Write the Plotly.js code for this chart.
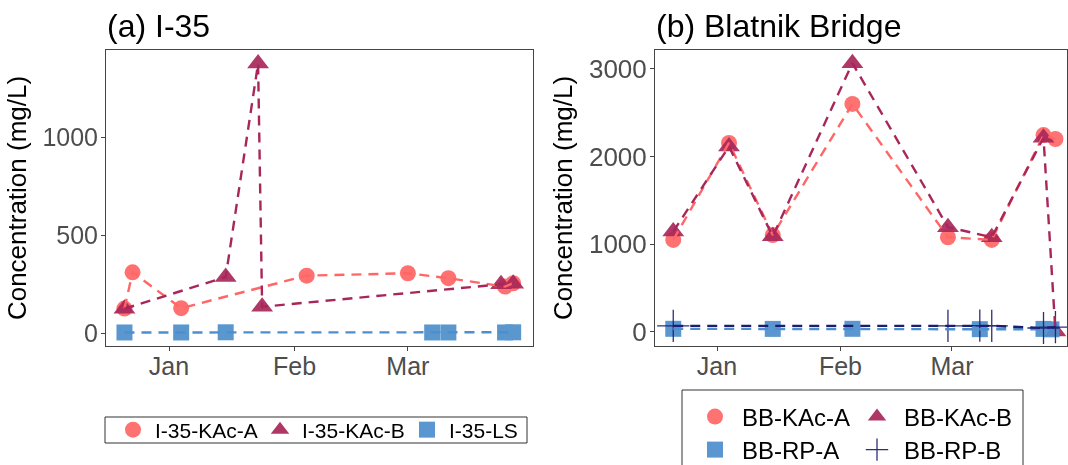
<!DOCTYPE html>
<html>
<head>
<meta charset="utf-8">
<script src="https://cdn.plot.ly/plotly-3.0.1.min.js"></script>
<style>html,body{margin:0;padding:0;background:#fff;}#chart{width:1068px;height:465px;}</style>
</head>
<body>
<div id="chart"></div>
<script>
// ---------- data ----------
const monthTicks = ['2019-01-01', '2019-02-01', '2019-03-01'];
const monthLabels = ['Jan', 'Feb', 'Mar'];

// (a) I-35
const i35KAcADates = ['2018-12-21', '2018-12-23', '2019-01-04', '2019-02-04', '2019-03-01', '2019-03-11', '2019-03-25', '2019-03-27'];
const i35KAcAValues = [125, 310, 127, 293, 305, 280, 237, 254];
const i35KAcBDates = ['2018-12-21', '2019-01-15', '2019-01-23', '2019-01-24', '2019-03-24', '2019-03-27'];
const i35KAcBValues = [124, 286, 1375, 134, 249, 252];
const i35LSDates = ['2018-12-21', '2019-01-04', '2019-01-15', '2019-03-07', '2019-03-11', '2019-03-25', '2019-03-27'];
const i35LSValues = [3, 3, 4, 3, 3, 3, 4];

// (b) Blatnik Bridge
const bbKAcADates = ['2018-12-21', '2019-01-04', '2019-01-15', '2019-02-04', '2019-02-28', '2019-03-11', '2019-03-24', '2019-03-27'];
const bbKAcAValues = [1050, 2155, 1105, 2600, 1080, 1050, 2245, 2200];
const bbKAcBDates = ['2018-12-21', '2019-01-04', '2019-01-15', '2019-02-04', '2019-02-28', '2019-03-11', '2019-03-24', '2019-03-27'];
const bbKAcBValues = [1145, 2115, 1090, 3065, 1195, 1080, 2215, 5];
const bbRPADates = ['2018-12-21', '2019-01-15', '2019-02-04', '2019-03-08', '2019-03-24', '2019-03-26'];
const bbRPAValues = [36, 35, 36, 32, 35, 30];
const bbRPBDates = ['2018-12-21', '2019-02-28', '2019-03-08', '2019-03-11', '2019-03-24', '2019-03-27'];
const bbRPBValues = [70, 70, 72, 70, 45, 55];

// ---------- styles ----------
const W = 1068, H = 465;
const colA = '#FF6666', colB = '#A8275A', colLS = '#4D8FCC', colRPB = '#1C1C72';
const dashStyle = '10px,7px';
const FONT = 'Liberation Sans, Arial, sans-serif';
const px = v => v / W;
const py = v => 1 - v / H;
const DAY = 86400000;
const jan1 = Date.UTC(2019, 0, 1);

function markerTrace(name, x, y, xa, ya, legend, marker) {
  return {type: 'scatter', mode: 'markers', name, x, y, xaxis: xa, yaxis: ya,
          legend, marker, opacity: 0.92, showlegend: true, hoverinfo: 'x+y+name'};
}
function lineTrace(name, x, y, xa, ya, color) {
  return {type: 'scatter', mode: 'lines', name, x, y, xaxis: xa, yaxis: ya,
          line: {color, width: 2.4, dash: dashStyle}, showlegend: false, hoverinfo: 'skip'};
}

const mCircle = {symbol: 'circle', size: 16, color: colA};
const mTri = {symbol: 'triangle-up', size: 19, color: colB};
const mSq = {symbol: 'square', size: 16, color: colLS};
const mPlus = {symbol: 'cross-thin-open', size: 23, color: colRPB, line: {color: colRPB, width: 1.3}};

const traces = [
  markerTrace('I-35-KAc-A', i35KAcADates, i35KAcAValues, 'x', 'y', 'legend', mCircle),
  markerTrace('I-35-KAc-B', i35KAcBDates, i35KAcBValues, 'x', 'y', 'legend', mTri),
  markerTrace('I-35-LS', i35LSDates, i35LSValues, 'x', 'y', 'legend', mSq),
  markerTrace('BB-KAc-A', bbKAcADates, bbKAcAValues, 'x2', 'y2', 'legend2', mCircle),
  markerTrace('BB-KAc-B', bbKAcBDates, bbKAcBValues, 'x2', 'y2', 'legend2', mTri),
  markerTrace('BB-RP-A', bbRPADates, bbRPAValues, 'x2', 'y2', 'legend3', mSq),
  markerTrace('BB-RP-B', bbRPBDates, bbRPBValues, 'x2', 'y2', 'legend3', mPlus),
  lineTrace('I-35-KAc-A', i35KAcADates, i35KAcAValues, 'x', 'y', colA),
  lineTrace('I-35-KAc-B', i35KAcBDates, i35KAcBValues, 'x', 'y', colB),
  lineTrace('I-35-LS', i35LSDates, i35LSValues, 'x', 'y', colLS),
  lineTrace('BB-KAc-A', bbKAcADates, bbKAcAValues, 'x2', 'y2', colA),
  lineTrace('BB-KAc-B', bbKAcBDates, bbKAcBValues, 'x2', 'y2', colB),
  lineTrace('BB-RP-A', bbRPADates, bbRPAValues, 'x2', 'y2', colLS),
  lineTrace('BB-RP-B', bbRPBDates, bbRPBValues, 'x2', 'y2', colRPB)
];

const frame = {showline: true, mirror: true, linecolor: '#444', linewidth: 1,
               ticks: 'outside', ticklen: 4, tickwidth: 1, tickcolor: '#444',
               showgrid: false, zeroline: false, fixedrange: true, automargin: false};
const tickFont = {family: FONT, size: 25, color: '#4D4D4D'};
const ytitle = (t) => ({text: t, font: {family: FONT, size: 26, color: '#000'}, standoff: 8});

const xBase = Object.assign({}, frame, {type: 'date', tickmode: 'array', tickvals: monthTicks,
               ticktext: monthLabels, tickfont: tickFont, ticklabelstandoff: -6});

const layout = {
  width: W, height: H,
  margin: {l: 0, r: 0, t: 0, b: 0, pad: 0, autoexpand: false},
  paper_bgcolor: '#fff', plot_bgcolor: '#fff',
  font: {family: FONT},
  xaxis: Object.assign({}, xBase, {domain: [px(106), px(533)], anchor: 'y',
          range: [jan1 - 15.56 * DAY, jan1 + 89.9 * DAY]}),
  yaxis: Object.assign({}, frame, {domain: [py(346), py(50)], anchor: 'x',
          range: [-66, 1444], tickvals: [0, 500, 1000], tickfont: tickFont, ticklabelstandoff: -2,
          title: ytitle('Concentration (mg/L)')}),
  xaxis2: Object.assign({}, xBase, {domain: [px(655), px(1067)], anchor: 'y2',
          range: [jan1 - 15.58 * DAY, jan1 + 87.9 * DAY]}),
  yaxis2: Object.assign({}, frame, {domain: [py(346), py(50)], anchor: 'x2',
          range: [-160, 3215], tickvals: [0, 1000, 2000, 3000], tickfont: Object.assign({}, tickFont, {size: 26}),
          ticklabelstandoff: -2, title: ytitle('Concentration (mg/L)')}),
  legend: {orientation: 'h', x: px(111), xanchor: 'left', y: py(430), yanchor: 'middle',
           bgcolor: 'rgba(0,0,0,0)', borderwidth: 0, itemwidth: 34, entrywidth: 98,
           font: {family: FONT, size: 21, color: '#000'}},
  legend2: {orientation: 'h', x: px(688), xanchor: 'left', y: py(417), yanchor: 'middle',
           bgcolor: 'rgba(0,0,0,0)', borderwidth: 0, itemwidth: 44, entrywidth: 103,
           font: {family: FONT, size: 24, color: '#000'}},
  legend3: {orientation: 'h', x: px(688), xanchor: 'left', y: py(450), yanchor: 'middle',
           bgcolor: 'rgba(0,0,0,0)', borderwidth: 0, itemwidth: 44, entrywidth: 103,
           font: {family: FONT, size: 24, color: '#000'}},
  shapes: [
    {type: 'rect', xref: 'paper', yref: 'paper', x0: px(105), x1: px(527), y0: py(443), y1: py(417),
     line: {color: '#333', width: 1}, fillcolor: 'rgba(0,0,0,0)', layer: 'below'},
    {type: 'rect', xref: 'paper', yref: 'paper', x0: px(682), x1: px(1023), y0: py(475), y1: py(390),
     line: {color: '#333', width: 1}, fillcolor: 'rgba(0,0,0,0)', layer: 'below'}
  ],
  annotations: [
    {text: '(a) I-35', xref: 'paper', yref: 'paper', x: px(105), xanchor: 'left', y: py(26), yanchor: 'middle',
     showarrow: false, font: {family: FONT, size: 32, color: '#000'}},
    {text: '(b) Blatnik Bridge', xref: 'paper', yref: 'paper', x: px(654), xanchor: 'left', y: py(26), yanchor: 'middle',
     showarrow: false, font: {family: FONT, size: 32, color: '#000'}}
  ]
};

Plotly.newPlot('chart', traces, layout, {staticPlot: true, displayModeBar: false});
</script>
</body>
</html>
